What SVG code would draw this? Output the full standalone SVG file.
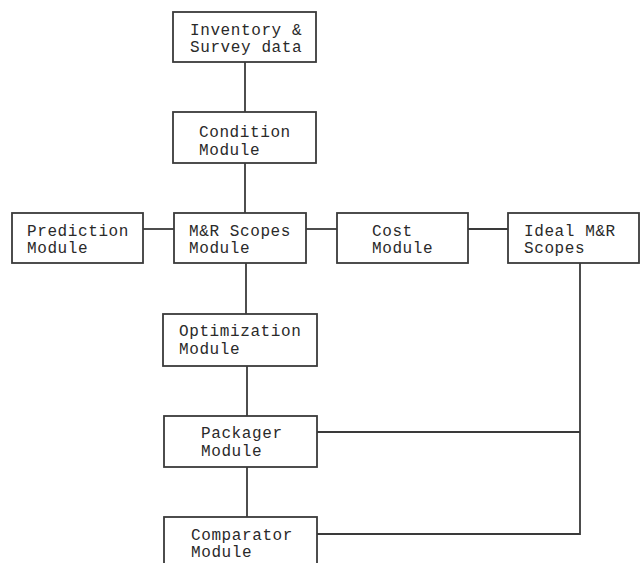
<svg xmlns="http://www.w3.org/2000/svg" width="640" height="563" viewBox="0 0 640 563">
<style>
.box{fill:#fff;stroke:#3a3a3a;stroke-width:1.8}
.t{font-family:"Liberation Mono","Courier New",monospace;font-size:16px;fill:#2a2a2a;letter-spacing:0.6px}
.c{fill:none;stroke:#3a3a3a;stroke-width:1.8}
</style>
<rect width="640" height="563" fill="#fff"/>
<g id="connectors">
<line class="c" x1="245" y1="62" x2="245" y2="112"/>
<line class="c" x1="245" y1="163" x2="245" y2="213"/>
<line class="c" x1="246" y1="263" x2="246" y2="314"/>
<line class="c" x1="247" y1="366" x2="247" y2="416"/>
<line class="c" x1="247" y1="467" x2="247" y2="517"/>
<line class="c" x1="143" y1="229" x2="174" y2="229"/>
<line class="c" x1="306" y1="229" x2="337" y2="229"/>
<line class="c" x1="468" y1="229" x2="508" y2="229"/>
<polyline class="c" points="580,263 580,534 317,534"/>
<line class="c" x1="317" y1="432" x2="580" y2="432"/>
</g>
<g id="inventory">
<rect class="box" x="173" y="12" width="143" height="50"/>
<text class="t" x="190" y="35">Inventory &amp;</text>
<text class="t" x="190" y="52">Survey data</text>
</g>
<g id="condition">
<rect class="box" x="173" y="112" width="143" height="51"/>
<text class="t" x="199" y="137">Condition</text>
<text class="t" x="199" y="155">Module</text>
</g>
<g id="prediction">
<rect class="box" x="12" y="213" width="131" height="50"/>
<text class="t" x="27" y="236">Prediction</text>
<text class="t" x="27" y="253">Module</text>
</g>
<g id="mr-scopes">
<rect class="box" x="174" y="213" width="132" height="50"/>
<text class="t" x="189" y="236">M&amp;R Scopes</text>
<text class="t" x="189" y="253">Module</text>
</g>
<g id="cost">
<rect class="box" x="337" y="213" width="131" height="50"/>
<text class="t" x="372" y="236">Cost</text>
<text class="t" x="372" y="253">Module</text>
</g>
<g id="ideal">
<rect class="box" x="508" y="213" width="131" height="50"/>
<text class="t" x="524" y="236">Ideal M&amp;R</text>
<text class="t" x="524" y="253">Scopes</text>
</g>
<g id="optimization">
<rect class="box" x="163" y="314" width="154" height="52"/>
<text class="t" x="179" y="336">Optimization</text>
<text class="t" x="179" y="354">Module</text>
</g>
<g id="packager">
<rect class="box" x="164" y="416" width="153" height="51"/>
<text class="t" x="201" y="438">Packager</text>
<text class="t" x="201" y="456">Module</text>
</g>
<g id="comparator">
<rect class="box" x="164" y="517" width="153" height="60"/>
<text class="t" x="191" y="540">Comparator</text>
<text class="t" x="191" y="557">Module</text>
</g>
</svg>
